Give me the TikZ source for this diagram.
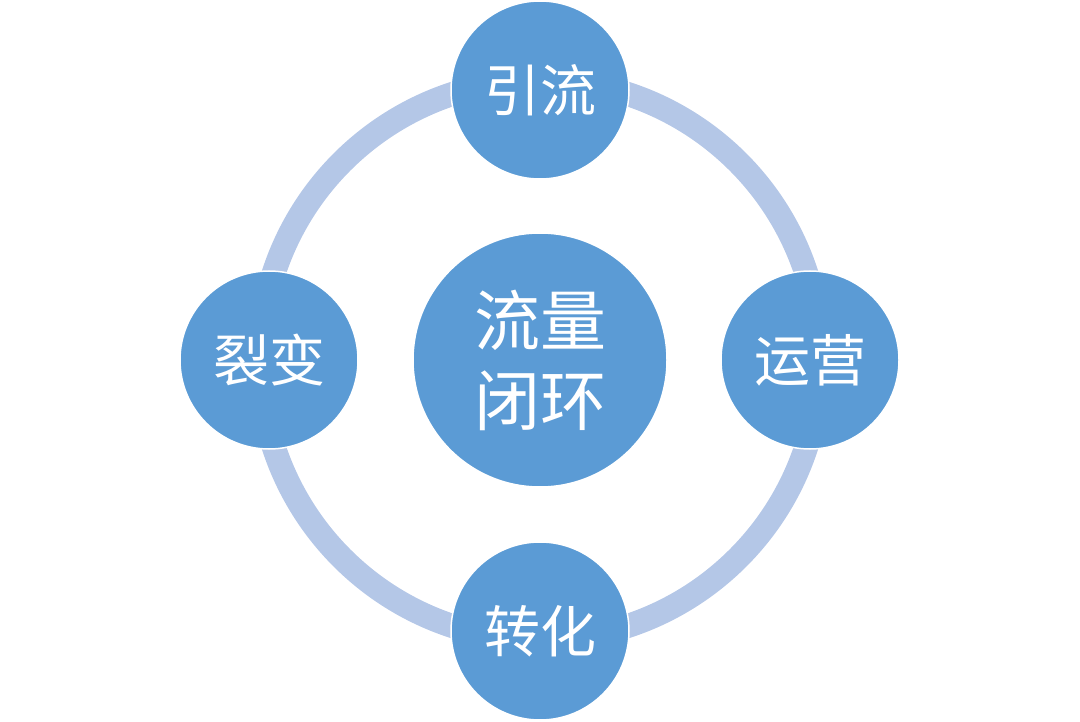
\documentclass[tikz,border=0pt]{standalone}
\usepackage{fontspec}
\newfontfamily\cjk{Noto Sans CJK SC}
\definecolor{nodeblue}{HTML}{5B9BD5}
\definecolor{ringblue}{HTML}{B4C7E7}
\tikzset{
  hub/.style={circle, fill=nodeblue, draw=white, line width=1.5pt, text=white, inner sep=0pt, font=\cjk\fontsize{66}{80}\selectfont, align=center},
  sat/.style={circle, fill=nodeblue, draw=white, line width=1.5pt, text=white, inner sep=0pt, font=\cjk\fontsize{56}{60}\selectfont},
  ring/.style={draw=ringblue, line width=24pt}
}
\begin{document}
\begin{tikzpicture}[x=1pt,y=-1pt]
\useasboundingbox (0,0) rectangle (1080,722);
\coordinate (c) at (540,360);
\draw[ring] (c) circle[radius=280];
\node[hub, minimum size=254pt] (hubnode) at (540,360) {流量\\闭环};
\node[sat, minimum size=178pt] (top) at (540,90) {引流};
\node[sat, minimum size=178pt] (right) at (810,360) {运营};
\node[sat, minimum size=178pt] (bottom) at (540,631) {转化};
\node[sat, minimum size=178pt] (left) at (269,360) {裂变};
\end{tikzpicture}
\end{document}
